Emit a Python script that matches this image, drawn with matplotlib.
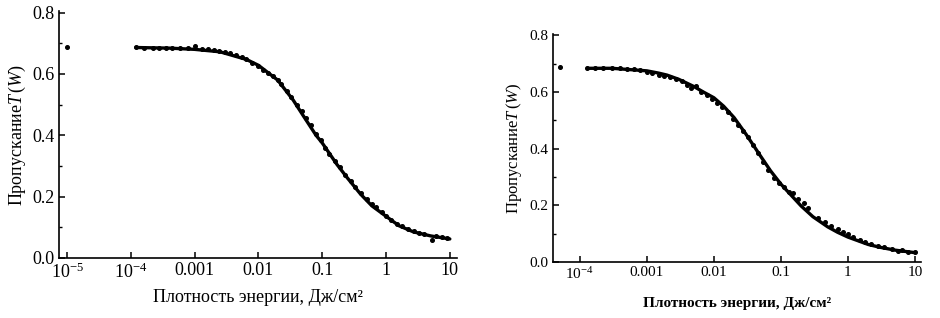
import matplotlib
matplotlib.use("Agg")
import matplotlib.pyplot as plt
from matplotlib.ticker import FixedLocator, FixedFormatter, MultipleLocator, NullLocator

plt.rcParams['font.family'] = ['Liberation Serif', 'DejaVu Serif']
plt.rcParams['mathtext.fontset'] = 'custom'
plt.rcParams['mathtext.rm'] = 'Liberation Serif'
plt.rcParams['mathtext.it'] = 'Liberation Serif:italic'
plt.rcParams['mathtext.bf'] = 'Liberation Serif:bold'

# ---------------- data: left panel ----------------
left_fit_x = [1.2e-4, 4.0e-4, 1.0e-3, 2.5e-3, 6.5e-3, 0.01, 0.015, 0.02, 0.035, 0.05,
              0.08, 0.1, 0.17, 0.25, 0.4, 0.6, 1.0, 1.6, 2.7, 5.0, 10.0]
left_fit_y = [0.686, 0.684, 0.680, 0.672, 0.647, 0.628, 0.600, 0.580, 0.515, 0.465,
              0.400, 0.375, 0.305, 0.260, 0.208, 0.170, 0.136, 0.105, 0.085, 0.072, 0.062]

left_pts_x = [1e-5, 1.2e-4, 1.6e-4, 2.2e-4, 2.8e-4, 3.5e-4, 4.5e-4, 6e-4, 8e-4, 1.0e-3,
              1.3e-3, 1.6e-3, 2.0e-3, 2.4e-3, 3.0e-3, 3.6e-3, 4.5e-3, 5.5e-3, 6.5e-3, 8e-3,
              1.0e-2, 1.2e-2, 1.4e-2, 1.7e-2, 2.0e-2, 2.3e-2, 2.8e-2, 3.3e-2, 4.0e-2, 4.8e-2,
              5.6e-2, 6.6e-2, 8e-2, 9.5e-2, 0.11, 0.13, 0.16, 0.19, 0.23, 0.28,
              0.33, 0.4, 0.5, 0.6, 0.7, 0.85, 1.0, 1.2, 1.5, 1.8,
              2.2, 2.7, 3.3, 4.0, 5.2, 6.0, 7.5, 9.0]
left_pts_y = [0.688, 0.688, 0.686, 0.685, 0.685, 0.684, 0.684, 0.683, 0.683, 0.690,
              0.682, 0.680, 0.678, 0.676, 0.672, 0.668, 0.662, 0.655, 0.648, 0.636,
              0.625, 0.612, 0.602, 0.592, 0.580, 0.566, 0.545, 0.525, 0.500, 0.478,
              0.455, 0.432, 0.405, 0.383, 0.360, 0.340, 0.315, 0.295, 0.272, 0.250,
              0.232, 0.212, 0.192, 0.176, 0.165, 0.150, 0.138, 0.125, 0.112, 0.103,
              0.095, 0.088, 0.082, 0.077, 0.058, 0.072, 0.068, 0.065]

left_xticks = [1e-5, 1e-4, 1e-3, 1e-2, 1e-1, 1, 10]
left_xticklabels = ["$10^{-5}$", "$10^{-4}$", "0.001", "0.01", "0.1", "1", "10"]

# ---------------- data: right panel ----------------
right_fit_x = [1.3e-4, 3.0e-4, 1.0e-3, 1.5e-3, 2.0e-3, 3.0e-3, 5.0e-3, 7.0e-3, 0.01, 0.014,
               0.02, 0.03, 0.05, 0.07, 0.1, 0.2, 0.3, 0.5, 0.7, 1.0,
               2.0, 3.0, 5.0, 10.0]
right_fit_y = [0.684, 0.684, 0.675, 0.667, 0.660, 0.645, 0.620, 0.600, 0.580, 0.550,
               0.510, 0.452, 0.373, 0.322, 0.275, 0.198, 0.160, 0.124, 0.105, 0.088,
               0.062, 0.052, 0.042, 0.033]

right_pts_x = [5e-5, 1.3e-4, 1.7e-4, 2.2e-4, 3e-4, 4e-4, 5e-4, 6.5e-4, 8e-4, 1e-3,
               1.2e-3, 1.5e-3, 1.8e-3, 2.2e-3, 2.7e-3, 3.3e-3, 4e-3, 4.5e-3, 5.5e-3, 6.5e-3,
               8e-3, 9.5e-3, 1.1e-2, 1.3e-2, 1.6e-2, 1.9e-2, 2.3e-2, 2.7e-2, 3.2e-2, 3.8e-2,
               4.5e-2, 5.4e-2, 6.5e-2, 8e-2, 9.5e-2, 0.11, 0.13, 0.153, 0.18, 0.22,
               0.256, 0.36, 0.45, 0.55, 0.7, 0.85, 1.0, 1.2, 1.5, 1.8,
               2.2, 2.8, 3.5, 4.5, 5.5, 6.5, 8.0, 10.0]
right_pts_y = [0.690, 0.685, 0.686, 0.686, 0.685, 0.684, 0.682, 0.680, 0.678, 0.672,
               0.668, 0.662, 0.658, 0.652, 0.646, 0.638, 0.625, 0.615, 0.620, 0.600,
               0.588, 0.575, 0.563, 0.548, 0.528, 0.505, 0.485, 0.462, 0.440, 0.412,
               0.385, 0.352, 0.325, 0.298, 0.280, 0.265, 0.247, 0.245, 0.222, 0.207,
               0.190, 0.155, 0.140, 0.128, 0.118, 0.106, 0.098, 0.090, 0.078, 0.072,
               0.065, 0.058, 0.052, 0.046, 0.038, 0.042, 0.036, 0.034]

right_xticks = [1e-4, 1e-3, 1e-2, 1e-1, 1, 10]
right_xticklabels = ["$10^{-4}$", "0.001", "0.01", "0.1", "1", "10"]

yticks = [0.0, 0.2, 0.4, 0.6, 0.8]
yticklabels = ["0.0", "0.2", "0.4", "0.6", "0.8"]

ylabel_text = "Пропускание$T\\,(W)$"
xlabel_text = "Плотность энергии, Дж/см²"

fig = plt.figure(figsize=(9.4, 3.18), dpi=100)

def style(ax, xlim, xt, xtl, fs):
    ax.set_xscale('log')
    ax.set_xlim(*xlim)
    ax.set_ylim(0, 0.805)
    for s in ('top', 'right'):
        ax.spines[s].set_visible(False)
    for s in ('left', 'bottom'):
        ax.spines[s].set_linewidth(1.2)
    ax.xaxis.set_major_locator(FixedLocator(xt))
    ax.xaxis.set_major_formatter(FixedFormatter(xtl))
    ax.xaxis.set_minor_locator(NullLocator())
    ax.yaxis.set_major_locator(FixedLocator(yticks))
    ax.yaxis.set_major_formatter(FixedFormatter(yticklabels))
    ax.yaxis.set_minor_locator(MultipleLocator(0.1))
    ax.tick_params(which='major', direction='in', length=4, width=1.1, labelsize=fs, pad=3)
    ax.tick_params(which='minor', direction='in', length=2.5, width=1.0)

# left panel
ax1 = fig.add_axes([0.0628, 0.1887, 0.4232, 0.7767])
ax1.plot(left_fit_x, left_fit_y, color='black', lw=2.4, solid_capstyle='round', solid_joinstyle='round')
ax1.plot(left_pts_x, left_pts_y, ls='none', marker='o', ms=2.6, color='black')
style(ax1, (10**-5.125, 10**1.11), left_xticks, left_xticklabels, 13)
ax1.set_xlabel(xlabel_text, fontsize=13, labelpad=5)
ax1.set_ylabel(ylabel_text, fontsize=13, labelpad=3)

# right panel
ax2 = fig.add_axes([0.5883, 0.1761, 0.3915, 0.7169])
ax2.plot(right_fit_x, right_fit_y, color='black', lw=2.4, solid_capstyle='round', solid_joinstyle='round')
ax2.plot(right_pts_x, right_pts_y, ls='none', marker='o', ms=2.6, color='black')
style(ax2, (10**-4.40, 10**1.09), right_xticks, right_xticklabels, 11)
ax2.set_xlabel(xlabel_text, fontsize=11, fontweight='bold', labelpad=11)
ax2.set_ylabel(ylabel_text, fontsize=12, labelpad=4)

fig.savefig("out.png", dpi=100)
